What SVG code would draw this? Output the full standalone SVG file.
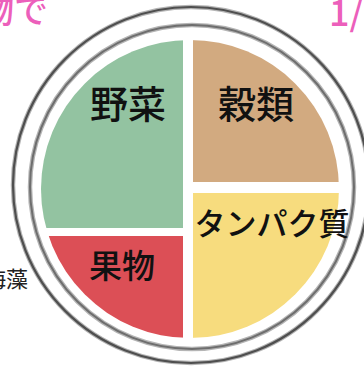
<svg xmlns="http://www.w3.org/2000/svg" width="364" height="371" viewBox="0 0 364 371">
<style>
.halo{fill:none;stroke:#b5b5b5;stroke-width:4.5}
.ring{fill:none;stroke:#4f4f4f;stroke-width:2.2}
.ring2{fill:none;stroke:#6e6e6e;stroke-width:2}
.lbl{font-family:"Noto Sans CJK JP","Noto Sans CJK SC",sans-serif;font-weight:500;fill:#111;text-anchor:middle}
.pink{font-family:"Noto Sans CJK JP","Noto Sans CJK SC",sans-serif;font-weight:500;fill:#ec5fbb}
</style>
<defs>
<clipPath id="plate"><circle cx="190" cy="189" r="149"/></clipPath>
</defs>
<rect width="364" height="371" fill="#ffffff"/>
<text class="pink" x="48" y="23" font-size="34" text-anchor="end">物で</text>
<text class="pink" x="329" y="26" font-size="36">1/</text>
<text x="28" y="287" font-family="'Noto Sans CJK JP',sans-serif" font-size="22" fill="#222" text-anchor="end">海藻</text>
<g id="plate-rings">
<circle class="halo" cx="191" cy="185" r="178"/>
<circle class="ring" cx="191" cy="185" r="178"/>
<circle class="halo" cx="192" cy="187" r="162"/>
<circle class="ring2" cx="192" cy="187" r="162"/>
</g>
<g id="vegetables">
<rect x="0" y="0" width="183" height="228" fill="#93c3a1" clip-path="url(#plate)"/>
<text class="lbl" x="128" y="118" font-size="38">野菜</text>
</g>
<g id="grains">
<rect x="193" y="0" width="200" height="182" fill="#d2aa80" clip-path="url(#plate)"/>
<text class="lbl" x="256" y="118" font-size="38">穀類</text>
</g>
<g id="fruit">
<rect x="0" y="236" width="183" height="200" fill="#dc4f56" clip-path="url(#plate)"/>
<text class="lbl" x="122" y="278" font-size="33">果物</text>
</g>
<g id="protein">
<rect x="193" y="193" width="200" height="200" fill="#f7dc7e" clip-path="url(#plate)"/>
<text class="lbl" x="272" y="235" font-size="31">タンパク質</text>
</g>
<g id="connectors"></g>
</svg>
